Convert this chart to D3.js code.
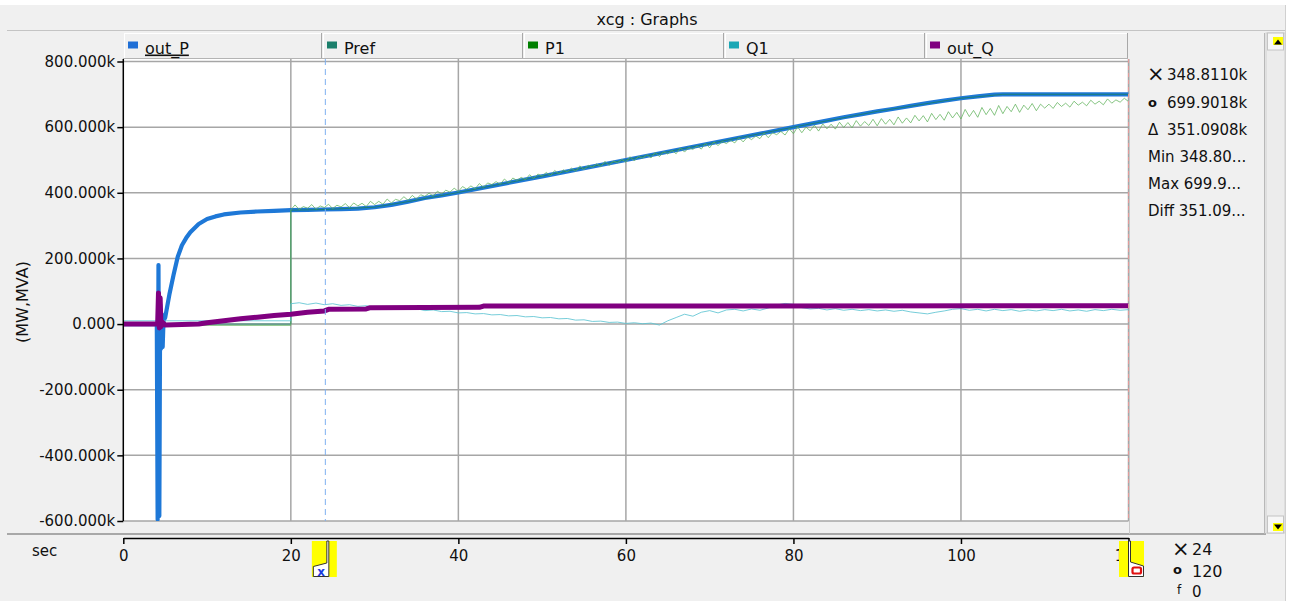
<!DOCTYPE html>
<html><head><meta charset="utf-8">
<script src="https://cdn.jsdelivr.net/npm/d3@7"></script>
<style>
html,body{margin:0;padding:0;background:#fff;}
svg{display:block;font-family:"DejaVu Sans",Verdana,sans-serif;}
</style></head><body>
<svg id="c" width="1290" height="601"></svg>
<script>
// ---------------- DATA ----------------
const title = "xcg : Graphs";
const seriesNames = ["out_P","Pref","P1","Q1","out_Q"];
const xTickValues = [0,20,40,60,80,100,120];
const yTickValues = [800,600,400,200,0,-200,-400,-600];
const yAxisLabel = "(MW,MVA)";
const xAxisLabel = "sec";

// out_P (k)
const outP_t = [0,4.0,4.1,4.2,4.3,4.4,4.5,4.6,4.7,4.8,5.0,5.5,6.0,6.5,7.0,7.5,8,9,10,11,12,14,16,18,20,22,24,26,28,30,32,34,36,38,40,50,60,70,80,82,84,86,88,90,92,94,96,98,100,102,104,105,120];
const outP_v = [0,0,-595,180,-585,60,-75,30,-70,10,20,90,150,205,240,262,280,305,320,328,334,340,343,345,347,348,349,350,352,356,363,373,384,392,401,450,500,550,600,610,620,630,639,648,656,665,673,681,688,694,699,700,700];

// Pref (k)
const pref_t = [0,20,20,24,30,34,40,80,90,100,105,120];
const pref_v = [0,0,347,349,356,373,401,600,648,688,700,700];

// P1 (k): flat part, then samples every 0.5 s from 20 s
const p1Early_t = [0,20];
const p1Early_v = [-4,-4];
const p1_start = 20, p1_step = 0.5;
const p1_v = [
 348,363,349,358,353,364,350,360,355,365,352,362,357,367,355,369,360,368,358,374,
 364,374,365,381,369,380,376,388,377,392,381,394,389,399,390,405,396,408,402,414,
 404,419,411,421,412,428,417,430,425,434,426,442,430,445,438,447,440,455,444,457,
 451,462,452,468,457,470,464,475,465,482,470,484,478,488,479,496,483,497,491,502,
 493,510,497,511,505,516,506,523,510,525,518,529,519,537,524,538,532,543,533,550,
 537,555,544,556,550,560,552,568,555,570,562,573,565,582,568,583,577,587,576,595,
 580,601,583,600,589,606,588,610,595,609,594,615,599,614,598,620,603,617,605,624,
 604,626,609,624,607,631,612,628,613,636,619,635,616,642,623,639,621,647,628,645,
 625,654,632,651,630,660,638,657,636,666,641,663,647,670,645,667,653,672,650,670,
 658,670,657,675,663,673,661,679,667,676,665,682,670,679,668,686,673,683,676,688,678
];

// Q1 (k): flat part, then samples every 1 s from 20 s
const q1Early_t = [0,20];
const q1Early_v = [10,10];
const q1_start = 20, q1_step = 1;
const q1_v = [
 62,65,60,64,59,62,57,59,54,56,
 51,54,48,51,45,47,41,43,38,39,
 34,35,31,32,28,29,25,26,22,23,
 19,20,16,17,12,13,8,9,5,6,
 2,4,1,3,-3,10,20,30,24,36,
 41,34,43,45,40,46,42,49,58,63,
 60,50,46,48,43,47,42,45,41,44,
 40,43,39,42,37,34,31,36,40,45,
 47,42,45,40,45,41,44,39,43,40,
 44,41,45,40,43,39,44,41,45,42,44
];

// out_Q (k)
const outQ_t = [0,4.0,4.1,4.2,4.3,4.4,4.5,4.7,5,9,10,12,14,16,18,20,22,24,24.5,29,29.5,42.5,43,120];
const outQ_v = [0,0,0,95,-12,80,-8,5,-3,0,4,10,16,21,26,30,36,40,45,46,50,51,55,56];

// cursors & readouts
const cursorX = 24, cursorO = 120;
const readoutSymbols = ["×","o","Δ"];
const readoutValues = ["348.8110k","699.9018k","351.0908k"];
const statLabels = ["Min 348.80...","Max 699.9...","Diff 351.09..."];
const cursorSymbols = ["×","o","f"];
const cursorReadout = ["24","120","0"];

// ---------------- STYLE ----------------
const style = {
  out_P:{legend:"#1f6fd6", color:"#1e78d7", width:4.2, op:1},
  Pref: {legend:"#1b7f6b", color:"#1b7f6b", width:1, op:0.9},
  P1:   {legend:"#008000", color:"#5fb25a", width:1, op:0.75},
  Q1:   {legend:"#1aa7b5", color:"#5ec4d2", width:1, op:0.85},
  out_Q:{legend:"#800080", color:"#800080", width:5, op:1}
};

// ---------------- DRAW ----------------
const svg = d3.select("#c");
const x = d3.scaleLinear().domain([0,120]).range([123.3,1128.5]);
const y = d3.scaleLinear().domain([-600,800]).range([521,61.5]);

const zip = (t,v) => t.map((d,i)=>({t:d, v:v[i]}));
const series = {
  out_P: zip(outP_t, outP_v),
  Pref: zip(pref_t, pref_v),
  P1: zip(p1Early_t, p1Early_v).concat(p1_v.map((v,i)=>({t:p1_start+i*p1_step, v}))),
  Q1: zip(q1Early_t, q1Early_v).concat(q1_v.map((v,i)=>({t:q1_start+i*q1_step, v}))),
  out_Q: zip(outQ_t, outQ_v)
};

// window background
svg.append("rect").attr("x",0).attr("y",5).attr("width",1286).attr("height",596).attr("fill","#f0f0f0");
svg.append("line").attr("x1",7).attr("x2",1286).attr("y1",30.5).attr("y2",30.5).attr("stroke","#c4c4c4");
svg.append("line").attr("x1",1285.5).attr("x2",1285.5).attr("y1",5).attr("y2",601).attr("stroke","#d0d0d0");
svg.append("text").attr("x",647).attr("y",25).attr("text-anchor","middle")
  .attr("font-size",16).attr("fill","#111").text(title);

// legend cells
const edges = [123,322,523,724,925,1128];
seriesNames.forEach((n,i)=>{
  const x0 = edges[i], x1 = edges[i+1];
  const g = svg.append("g");
  g.append("rect").attr("x",x0+1).attr("y",33).attr("width",x1-x0-1).attr("height",26).attr("fill","#f0f0f0");
  g.append("line").attr("x1",x0+1.5).attr("x2",x0+1.5).attr("y1",33).attr("y2",59).attr("stroke","#ffffff");
  g.append("line").attr("x1",x0+1).attr("x2",x1).attr("y1",33.5).attr("y2",33.5).attr("stroke","#ffffff");
  g.append("line").attr("x1",x1-0.5).attr("x2",x1-0.5).attr("y1",33).attr("y2",59).attr("stroke","#a8a8a8");
  g.append("line").attr("x1",x0).attr("x2",x1).attr("y1",58.5).attr("y2",58.5).attr("stroke","#b4b4b4");
  g.append("rect").attr("x",x0+5).attr("y",41.5).attr("width",10).attr("height",7).attr("fill",style[n].legend);
  const t = g.append("text").attr("x",x0+22).attr("y",53.5).attr("font-size",16).attr("fill","#111").text(n);
  if(i===0) t.attr("text-decoration","underline");
});

// plot area
svg.append("rect").attr("x",123.3).attr("y",59).attr("width",1005.2).attr("height",462).attr("fill","#ffffff");
svg.append("defs").append("clipPath").attr("id","clip").append("rect")
  .attr("x",123.3).attr("y",59).attr("width",1005.2).attr("height",462);

// grid
const grid = svg.append("g").attr("stroke","#a6a6a6").attr("stroke-width",1.5);
xTickValues.filter(d=>d>0).forEach(d=>grid.append("line").attr("x1",x(d)).attr("x2",x(d)).attr("y1",59).attr("y2",521));
yTickValues.forEach(d=>grid.append("line").attr("x1",123.3).attr("x2",1128.5).attr("y1",y(d)).attr("y2",y(d)));

// series
const line = d3.line().x(d=>x(d.t)).y(d=>y(d.v));
const plot = svg.append("g").attr("clip-path","url(#clip)");
["out_P","Pref","P1","Q1","out_Q"].forEach(n=>{
  plot.append("path").datum(series[n]).attr("d",line).attr("fill","none")
    .attr("stroke",style[n].color).attr("stroke-width",style[n].width)
    .attr("stroke-opacity",style[n].op).attr("stroke-linejoin","round");
});

// cursor lines
svg.append("line").attr("x1",x(cursorX)+1).attr("x2",x(cursorX)+1).attr("y1",59).attr("y2",521)
  .attr("stroke","#7fb0f0").attr("stroke-width",1).attr("stroke-dasharray","6,4");
svg.append("line").attr("x1",x(cursorO)).attr("x2",x(cursorO)).attr("y1",59).attr("y2",521)
  .attr("stroke","#e39a9a").attr("stroke-width",1).attr("stroke-dasharray","4,3");

// y axis
const fmt = d => d===0 ? "0.000" : d.toFixed(3)+"k";
const ya = svg.append("g").attr("transform","translate(123.3,0)")
  .call(d3.axisLeft(y).tickValues(yTickValues).tickSize(6).tickSizeOuter(0).tickPadding(2).tickFormat(fmt));
ya.select(".domain").attr("stroke","#000").attr("stroke-width",1.5).attr("d","M0,59V521");
ya.selectAll(".tick line").attr("stroke","#000").attr("stroke-width",1.5);
ya.selectAll("text").attr("font-size",15).attr("fill","#111").attr("font-family",'"DejaVu Sans",Verdana,sans-serif');
svg.append("text").attr("transform","translate(28,302) rotate(-90)").attr("text-anchor","middle")
  .attr("font-size",16).attr("fill","#111").text(yAxisLabel);

// separator under plot
svg.append("line").attr("x1",7).attr("x2",1266).attr("y1",534).attr("y2",534).attr("stroke","#a8a8a8").attr("stroke-width",2);

// x axis
const xa = svg.append("g").attr("transform","translate(0,538)")
  .call(d3.axisBottom(x).tickValues(xTickValues).tickSize(6).tickSizeOuter(0).tickPadding(6).tickFormat(d3.format("d")));
xa.select(".domain").attr("stroke","#000").attr("stroke-width",1.5);
xa.selectAll(".tick line").attr("stroke","#000").attr("stroke-width",1.5);
xa.selectAll("text").attr("font-size",15).attr("fill","#111").attr("font-family",'"DejaVu Sans",Verdana,sans-serif');
svg.append("text").attr("x",32).attr("y",556).attr("font-size",15).attr("fill","#111").text(xAxisLabel);

// cursor markers on x axis
{
  const cx = x(cursorX);
  svg.append("rect").attr("x",cx-12.5).attr("y",541).attr("width",25).attr("height",36).attr("fill","#ffff00");
  svg.append("path").attr("d",`M${cx+2.5},541H${cx+4.5}V576.5H${cx-11}V566.5L${cx+2.5},563Z`)
    .attr("fill","#fff").attr("stroke","#333").attr("stroke-width",1);
  svg.append("text").attr("x",cx-3.3).attr("y",575.5).attr("text-anchor","middle").attr("font-size",12)
    .attr("font-weight","bold").attr("fill","#1a3adf").text("x");
}
{
  const cx = x(cursorO);
  svg.append("rect").attr("x",cx-9.5).attr("y",541).attr("width",25).attr("height",36).attr("fill","#ffff00");
  svg.append("path").attr("d",`M${cx},541H${cx+2}V562L${cx+15},566V576.5H${cx}Z`)
    .attr("fill","#fff").attr("stroke","#333").attr("stroke-width",1);
  svg.append("rect").attr("x",cx+4).attr("y",567.5).attr("width",8.5).attr("height",6).attr("rx",1.5)
    .attr("fill","#fff").attr("stroke","#e01010").attr("stroke-width",2.2);
}

// right panel
svg.append("line").attr("x1",1129.5).attr("x2",1129.5).attr("y1",59).attr("y2",534).attr("stroke","#c8c8c8");
svg.append("line").attr("x1",1264.5).attr("x2",1264.5).attr("y1",33).attr("y2",534).attr("stroke","#b8b8b8");
svg.append("rect").attr("x",1266).attr("y",33).attr("width",19).attr("height",500).attr("fill","#ececec").attr("stroke","#d0d0d0");
// scroll buttons
[[33,37,"M1274,44.5L1278,39.5L1282,44.5Z"],[516,523,"M1274,524.5L1278,529.5L1282,524.5Z"]].forEach(b=>{
  svg.append("rect").attr("x",1267.5).attr("y",b[0]).attr("width",16).attr("height",17).attr("fill","#f7f7f7").attr("stroke","#c4c4c4");
  svg.append("rect").attr("x",1273).attr("y",b[1]).attr("width",10).attr("height",8).attr("fill","#ffff00");
  svg.append("path").attr("d",b[2]).attr("fill","#000");
});

// readouts
const rBase = [80,108,135];
readoutValues.forEach((v,i)=>{
  const s = svg.append("text").attr("x",1147).attr("fill","#111").text(readoutSymbols[i]);
  if(i===0) s.attr("y",rBase[i]+1).attr("font-size",21);
  else if(i===1) s.attr("y",rBase[i]-1).attr("font-size",13).attr("font-weight","bold").attr("x",1148);
  else s.attr("y",rBase[i]).attr("font-size",15).attr("x",1148);
  svg.append("text").attr("x",1167).attr("y",rBase[i]).attr("font-size",15).attr("fill","#111").text(v);
});
statLabels.forEach((v,i)=>{
  svg.append("text").attr("x",1148).attr("y",162+i*27.2).attr("font-size",15).attr("fill","#111").text(v);
});
const cBase = [555,577,597];
cursorReadout.forEach((v,i)=>{
  const s = svg.append("text").attr("x",1172).attr("fill","#111").text(cursorSymbols[i]);
  if(i===0) s.attr("y",cBase[i]+1).attr("font-size",21);
  else if(i===1) s.attr("y",cBase[i]-3).attr("font-size",13).attr("font-weight","bold").attr("x",1173);
  else s.attr("y",cBase[i]-3).attr("font-size",12).attr("x",1177);
  svg.append("text").attr("x",1192).attr("y",cBase[i]).attr("font-size",i===2?15:16).attr("fill","#111").text(v);
});
</script>
</body></html>
